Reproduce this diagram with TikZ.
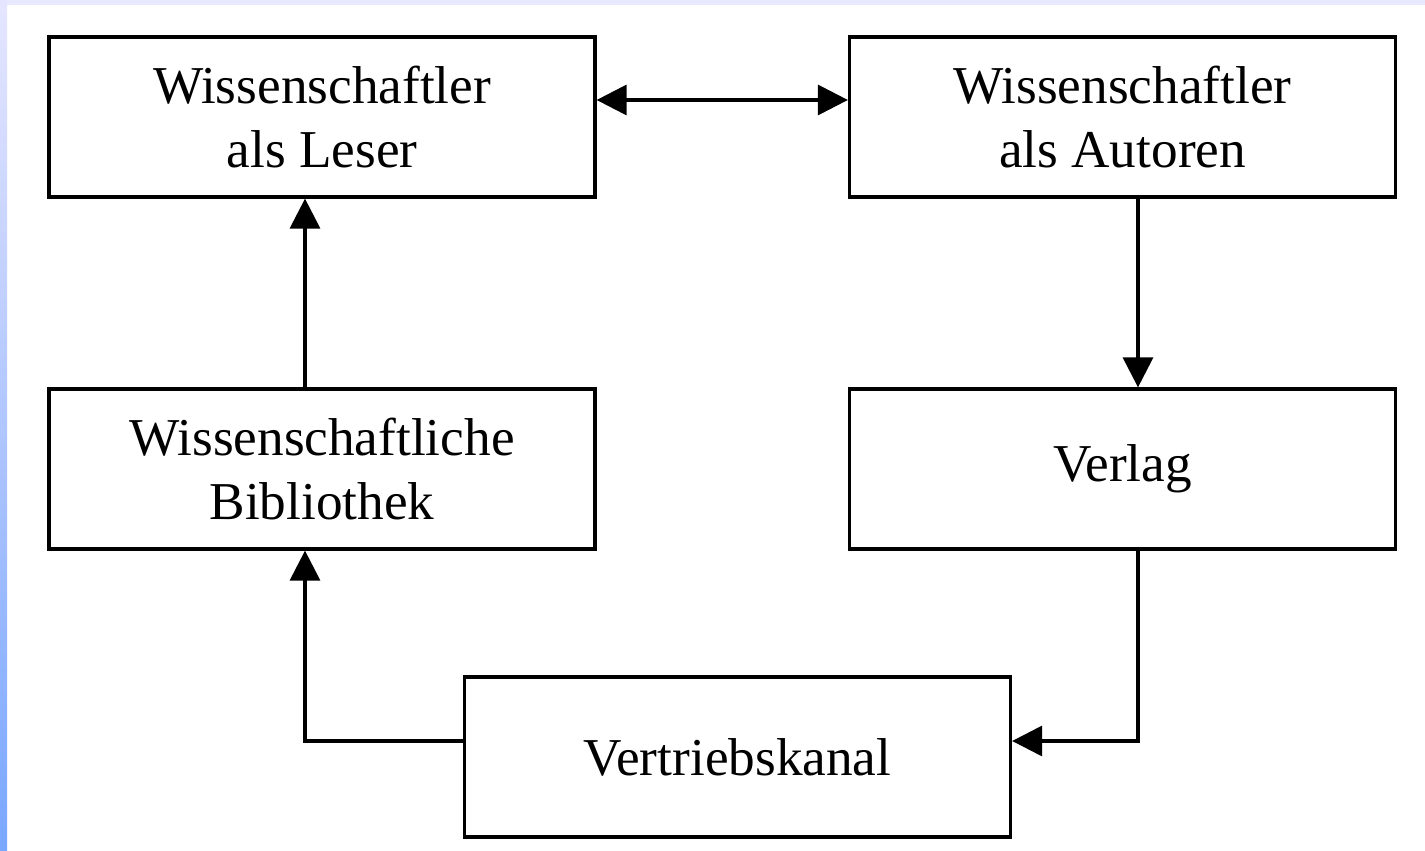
\documentclass[tikz,border=0pt]{standalone}
\usepackage{fontspec}
\setmainfont{Liberation Serif}
\usetikzlibrary{arrows.meta}

\begin{document}
\begin{tikzpicture}[
    box/.style={draw, line width=0.065cm, minimum width=10.92cm, minimum height=3.2cm,
      inner sep=0pt, align=center, font=\fontsize{30.3}{35.9}\selectfont},
    pfeil/.style={line width=0.065cm, -{Triangle[length=0.6cm,width=0.6cm]}},
    doppelpfeil/.style={line width=0.065cm, {Triangle[length=0.6cm,width=0.6cm]}-{Triangle[length=0.6cm,width=0.6cm]}},
  ]
    % Hintergrund mit Randstreifen
    \useasboundingbox (0,0) rectangle (28.5,17);
    \fill[white] (0,0) rectangle (28.5,17);
    \fill[blue!9!white] (0,16.9) rectangle (28.5,17);
    \shade[top color=blue!10!white, bottom color={rgb,255:red,122;green,167;blue,255}] (0,0) rectangle (0.14,17);

    % Kästen
    \node[box] (leser) at (6.44,14.66) {Wissenschaftler\\als Leser};
    \node[box] (autoren) at (22.45,14.66) {Wissenschaftler\\als Autoren};
    \node[box] (bibliothek) at (6.44,7.62) {Wissenschaftliche\\Bibliothek};
    \node[box] (verlag) at (22.45,7.62) {Verlag};
    \node[box] (kanal) at (14.75,1.86) {Vertriebskanal};

    % Pfeile
    \draw[doppelpfeil] ([yshift=0.34cm]leser.east) -- ([yshift=0.34cm]autoren.west);
    \draw[pfeil] ([xshift=0.31cm]autoren.south) -- ([xshift=0.31cm]verlag.north);
    \draw[pfeil] ([xshift=0.31cm]verlag.south) |- ([yshift=0.32cm]kanal.east);
    \draw[pfeil] ([yshift=0.32cm]kanal.west) -| ([xshift=-0.34cm]bibliothek.south);
    \draw[pfeil] ([xshift=-0.34cm]bibliothek.north) -- ([xshift=-0.34cm]leser.south);
\end{tikzpicture}
\end{document}
